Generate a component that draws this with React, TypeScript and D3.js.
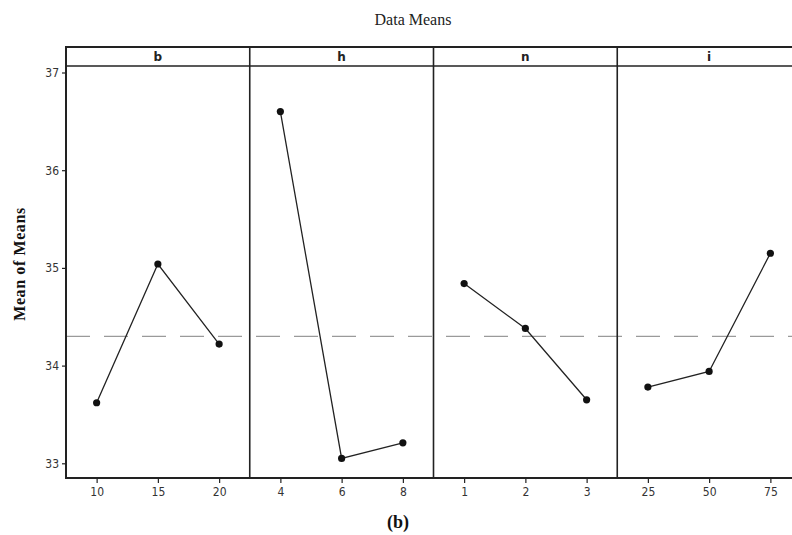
import * as d3 from 'd3';
import React, { useRef, useEffect } from 'react';

const mainWidth = 792;
const mainHeight = 535;

// factors and their levels
const factors = ['b', 'h', 'n', 'i'];
const bLevels = ['10', '15', '20'];
const hLevels = ['4', '6', '8'];
const nLevels = ['1', '2', '3'];
const iLevels = ['25', '50', '75'];

// mean of means per level
const bMeans = [33.62, 35.04, 34.22];
const hMeans = [36.6, 33.05, 33.21];
const nMeans = [34.84, 34.38, 33.65];
const iMeans = [33.78, 33.94, 35.15];

const yTicks = [33, 34, 35, 36, 37];
const grandMean = 34.3;

const panels = [
  { key: factors[0], levels: bLevels, means: bMeans },
  { key: factors[1], levels: hLevels, means: hMeans },
  { key: factors[2], levels: nLevels, means: nMeans },
  { key: factors[3], levels: iLevels, means: iMeans },
];

const frame = { left: 66, right: 801, top: 47, strip: 66, bottom: 478 };

function App() {
  const ref = useRef<SVGSVGElement>(null);

  useEffect(() => {
    const svg = d3.select(ref.current);
    svg.selectAll('*').remove();

    const xPanel = d3.scaleBand().domain(factors).range([frame.left, frame.right]);
    const y = d3.scaleLinear().domain([33, 37]).range([463.3, 72.5]);

    const tickFont = '"DejaVu Sans Condensed", "DejaVu Sans", sans-serif';

    // title
    svg
      .append('text')
      .attr('x', 413)
      .attr('y', 25)
      .attr('text-anchor', 'middle')
      .attr('font-family', '"Liberation Serif", serif')
      .attr('font-size', 16)
      .attr('fill', '#222')
      .text('Data Means');

    // reference line
    svg
      .append('line')
      .attr('x1', frame.left)
      .attr('x2', frame.right)
      .attr('y1', y(grandMean))
      .attr('y2', y(grandMean))
      .attr('stroke', '#9a9a9a')
      .attr('stroke-width', 1.3)
      .attr('stroke-dasharray', '24,14');

    panels.forEach((p) => {
      const x0 = xPanel(p.key)!;
      const bw = xPanel.bandwidth();
      const x = d3.scalePoint().domain(p.levels).range([x0, x0 + bw]).padding(0.5);

      // strip label
      svg
        .append('text')
        .attr('x', x0 + bw / 2)
        .attr('y', frame.strip - 5)
        .attr('text-anchor', 'middle')
        .attr('font-family', '"DejaVu Sans", sans-serif')
        .attr('font-weight', 'bold')
        .attr('font-size', 12)
        .attr('fill', '#222')
        .text(p.key);

      // x axis
      const ax = svg
        .append('g')
        .attr('transform', `translate(0, ${frame.bottom})`)
        .call(d3.axisBottom(x).tickSize(5).tickPadding(4));
      ax.select('.domain').remove();
      ax.selectAll('line').attr('stroke', '#222').attr('stroke-width', 1.2);
      ax.selectAll('text')
        .attr('font-family', tickFont)
        .attr('font-size', 12)
        .attr('fill', '#333');

      // line + points
      const pts = p.levels.map((l, k) => [x(l)!, y(p.means[k])] as [number, number]);
      svg
        .append('path')
        .attr('d', d3.line()(pts))
        .attr('fill', 'none')
        .attr('stroke', '#222')
        .attr('stroke-width', 1.3);
      svg
        .append('g')
        .selectAll('circle')
        .data(pts)
        .join('circle')
        .attr('cx', (d) => d[0])
        .attr('cy', (d) => d[1])
        .attr('r', 3.6)
        .attr('fill', '#111');

      // panel divider
      svg
        .append('line')
        .attr('x1', x0)
        .attr('x2', x0)
        .attr('y1', frame.top)
        .attr('y2', frame.bottom)
        .attr('stroke', '#222')
        .attr('stroke-width', 1.6);
    });

    // outer frame + strip line
    svg
      .append('rect')
      .attr('x', frame.left)
      .attr('y', frame.top)
      .attr('width', frame.right - frame.left)
      .attr('height', frame.bottom - frame.top)
      .attr('fill', 'none')
      .attr('stroke', '#222')
      .attr('stroke-width', 2);
    svg
      .append('line')
      .attr('x1', frame.left)
      .attr('x2', frame.right)
      .attr('y1', frame.strip)
      .attr('y2', frame.strip)
      .attr('stroke', '#222')
      .attr('stroke-width', 1.6);

    // y axis
    const ay = svg
      .append('g')
      .attr('transform', `translate(${frame.left}, 0)`)
      .call(
        d3
          .axisLeft(y)
          .tickValues(yTicks)
          .tickFormat(d3.format('d'))
          .tickSize(4)
          .tickPadding(3)
      );
    ay.select('.domain').remove();
    ay.selectAll('line').attr('stroke', '#222').attr('stroke-width', 1.2);
    ay.selectAll('text')
      .attr('font-family', tickFont)
      .attr('font-size', 12)
      .attr('fill', '#333');

    // y title
    svg
      .append('text')
      .attr('transform', `translate(25, 264) rotate(-90)`)
      .attr('text-anchor', 'middle')
      .attr('font-family', '"Liberation Serif", serif')
      .attr('font-weight', 'bold')
      .attr('font-size', 16)
      .attr('letter-spacing', 0.6)
      .attr('fill', '#111')
      .text('Mean of Means');

    // caption
    svg
      .append('text')
      .attr('x', 398)
      .attr('y', 528)
      .attr('text-anchor', 'middle')
      .attr('font-family', '"Liberation Serif", serif')
      .attr('font-weight', 'bold')
      .attr('font-size', 18)
      .attr('fill', '#111')
      .text('(b)');
  }, []);

  return (
    <svg
      ref={ref}
      width={mainWidth}
      height={mainHeight}
      style={{ position: 'absolute', left: 0, top: 0, background: '#fff' }}
    ></svg>
  );
}

export default App;
